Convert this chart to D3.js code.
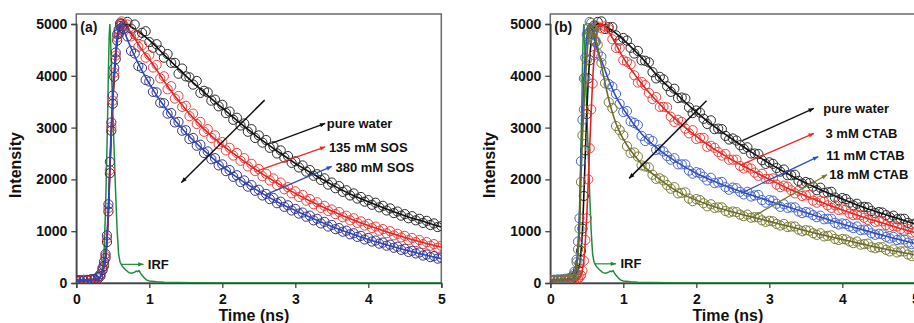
<!DOCTYPE html>
<html>
<head>
<meta charset="utf-8">
<script src="https://cdn.jsdelivr.net/npm/d3@7"></script>
<style>
    body { margin: 0; background: #fff; }
    svg { display: block; font-family: "Liberation Sans", Arial, sans-serif; font-weight: bold; }
</style>
</head>
<body>
<svg id="chart" width="914" height="323"></svg>
<script>
// time channels (ns) shared by every decay
const timeNs = [0, 0.05, 0.1, 0.15, 0.2, 0.25, 0.3, 0.33, 0.36, 0.38, 0.4, 0.42, 0.44, 0.46, 0.48, 0.5, 0.52, 0.54, 0.56, 0.58, 0.6, 0.62, 0.65,
    0.7, 0.75, 0.8, 0.85, 0.9, 0.95, 1.0, 1.05, 1.1, 1.15,
    1.2, 1.25, 1.3, 1.35, 1.4, 1.45, 1.5, 1.55, 1.6, 1.65,
    1.7, 1.75, 1.8, 1.85, 1.9, 1.95, 2.0, 2.05, 2.1, 2.15,
    2.2, 2.25, 2.3, 2.35, 2.4, 2.45, 2.5, 2.55, 2.6, 2.65,
    2.7, 2.75, 2.8, 2.85, 2.9, 2.95, 3.0, 3.05, 3.1, 3.15,
    3.2, 3.25, 3.3, 3.35, 3.4, 3.45, 3.5, 3.55, 3.6, 3.65,
    3.7, 3.75, 3.8, 3.85, 3.9, 3.95, 4.0, 4.05, 4.1, 4.15,
    4.2, 4.25, 4.3, 4.35, 4.4, 4.45, 4.5, 4.55, 4.6, 4.65,
    4.7, 4.75, 4.8, 4.85, 4.9, 4.95, 5.0];

// time knots of the fitted curves
const fitTime = [0, 0.3, 0.35, 0.4, 0.42, 0.44, 0.46, 0.48, 0.5, 0.52, 0.54, 0.56, 0.58, 0.6, 0.62, 0.65,
    0.7, 0.8, 0.9, 1.0, 1.25, 1.5, 1.75, 2.0, 2.25, 2.5, 2.75, 3.0, 3.25, 3.5, 3.75, 4.0, 4.25, 4.5, 4.75, 5.0];

// instrument response function
const irfTime = [0, 0.25, 0.3, 0.33, 0.36, 0.38, 0.4, 0.42, 0.43, 0.44, 0.45, 0.46, 0.47, 0.48, 0.5, 0.52, 0.54, 0.56, 0.58, 0.6,
    0.63, 0.67, 0.72, 0.76, 0.8, 0.82, 0.84, 0.86, 0.88, 0.9, 0.93, 0.96, 1.0, 1.1, 1.2, 1.4, 1.6, 2.0, 5.0];
const irfCounts = [30, 40, 60, 110, 250, 600, 1400, 2600, 3300, 4100, 4750, 5000, 4700, 4200, 3300, 2500, 1700, 1000, 550, 400,
    320, 260, 200, 190, 210, 230, 220, 240, 190, 150, 100, 60, 40, 25, 15, 8, 4, 2, 0];

// panel (a): pure water, 135 mM SOS, 380 mM SOS
const waterA = [40, 50, 60, 50, 70, 60, 90, 130, 250, 330, 480, 790, 1380, 2120, 2940, 3460, 3980, 4320, 4680, 4810, 4960, 5010, 4970,
    5040, 4910, 4990, 4780, 4830, 4860, 4650, 4540, 4610, 4490,
    4350, 4420, 4250, 4250, 4040, 4140, 3990, 3970, 3830, 3900,
    3670, 3710, 3680, 3520, 3540, 3410, 3440, 3280, 3310, 3150,
    3190, 3040, 3080, 2920, 2970, 2800, 2850, 2710, 2760, 2610,
    2640, 2500, 2560, 2420, 2450, 2320, 2350, 2230, 2270, 2150,
    2180, 2070, 2100, 1990, 2020, 1900, 1940, 1830, 1870, 1760,
    1790, 1690, 1730, 1630, 1660, 1570, 1600, 1510, 1550, 1460,
    1490, 1400, 1440, 1350, 1380, 1300, 1330, 1250, 1290, 1210,
    1240, 1160, 1200, 1120, 1150, 1080, 1100];
const sos135 = [50, 40, 60, 50, 60, 70, 100, 140, 270, 360, 520, 860, 1450, 2180, 3010, 3520, 4060, 4390, 4740, 4850, 4990, 5050, 4960,
    4990, 4760, 4800, 4560, 4590, 4350, 4400, 4160, 4210, 3950,
    3990, 3740, 3800, 3560, 3610, 3400, 3420, 3220, 3270, 3070,
    3110, 2920, 2970, 2800, 2850, 2680, 2720, 2560, 2610, 2460,
    2510, 2360, 2410, 2250, 2300, 2160, 2200, 2060, 2110, 1980,
    2020, 1890, 1940, 1810, 1850, 1730, 1770, 1660, 1700, 1590,
    1620, 1520, 1560, 1450, 1490, 1390, 1420, 1330, 1370, 1270,
    1300, 1210, 1250, 1160, 1190, 1110, 1140, 1060, 1090, 1010,
    1040, 960, 1000, 920, 950, 880, 910, 830, 870, 790,
    830, 750, 790, 720, 750, 680, 720];
const sos380 = [60, 50, 40, 60, 70, 80, 120, 170, 300, 410, 560, 920, 1520, 2340, 3100, 3620, 4150, 4450, 4800, 4890, 5010, 4930, 4900,
    4760, 4480, 4430, 4190, 4150, 3920, 3890, 3690, 3680, 3480,
    3470, 3270, 3280, 3100, 3110, 2940, 2950, 2780, 2800, 2650,
    2670, 2510, 2540, 2390, 2410, 2270, 2290, 2160, 2180, 2050,
    2080, 1950, 1980, 1860, 1890, 1780, 1800, 1690, 1720, 1620,
    1640, 1540, 1570, 1470, 1500, 1400, 1430, 1340, 1360, 1280,
    1300, 1210, 1240, 1150, 1180, 1090, 1120, 1040, 1060, 990,
    1010, 940, 960, 890, 910, 840, 870, 800, 820, 760,
    780, 720, 740, 680, 700, 640, 660, 600, 620, 570,
    590, 530, 550, 500, 520, 470, 490];
const waterAFit = [50, 70, 180, 450, 800, 1350, 2150, 2900, 3500, 3950, 4350, 4650, 4830, 4930, 4980, 5000,
    4990, 4900, 4800, 4690, 4340, 4000, 3680, 3380, 3080, 2800, 2550, 2310, 2100, 1900, 1720, 1570, 1430, 1300, 1190, 1080];
const sos135Fit = [50, 70, 190, 480, 830, 1400, 2200, 2950, 3550, 4000, 4400, 4700, 4870, 4960, 5000, 4990,
    4920, 4720, 4500, 4320, 3800, 3350, 2970, 2660, 2400, 2150, 1930, 1730, 1550, 1390, 1240, 1110, 990, 880, 780, 690];
const sos380Fit = [50, 80, 210, 520, 880, 1480, 2300, 3050, 3650, 4100, 4480, 4760, 4920, 4980, 4960, 4880,
    4700, 4380, 4100, 3850, 3320, 2900, 2560, 2250, 1990, 1770, 1570, 1400, 1240, 1090, 960, 840, 740, 640, 550, 470];

// panel (b): pure water, 3 mM, 11 mM, 18 mM CTAB
const waterB = [50, 60, 40, 60, 50, 70, 90, 110, 170, 250, 380, 620, 1050, 1680, 2560, 3260, 3950, 4300, 4700, 4800, 4970, 4950, 5040,
    5050, 4905, 4940, 4940, 4780, 4680, 4730, 4680, 4540, 4430,
    4480, 4300, 4290, 4260, 4070, 3950, 3980, 3930, 3800, 3690,
    3750, 3570, 3580, 3560, 3390, 3280, 3330, 3290, 3170, 3070,
    3140, 2970, 2980, 2970, 2840, 2770, 2790, 2750, 2660, 2590,
    2620, 2500, 2500, 2490, 2370, 2300, 2330, 2300, 2220, 2150,
    2190, 2080, 2080, 2090, 1970, 1920, 1950, 1930, 1860, 1790,
    1840, 1740, 1750, 1760, 1650, 1600, 1640, 1620, 1550, 1500,
    1530, 1460, 1470, 1460, 1390, 1350, 1370, 1360, 1310, 1270,
    1300, 1230, 1240, 1240, 1160, 1130, 1150];
const ctab3 = [50, 40, 60, 50, 40, 60, 50, 60, 70, 80, 110, 150, 240, 430, 830, 1250, 2000, 2600, 3350, 3850, 4400, 4650, 4950,
    4920, 4955, 4900, 4705, 4540, 4535, 4300, 4270, 4220, 4010,
    3870, 3880, 3820, 3670, 3550, 3590, 3400, 3400, 3390, 3210,
    3110, 3150, 3110, 2980, 2890, 2950, 2780, 2800, 2800, 2630,
    2650, 2610, 2530, 2460, 2490, 2380, 2380, 2380, 2260, 2210,
    2240, 2210, 2130, 2070, 2110, 2010, 2010, 2020, 1900, 1850,
    1880, 1860, 1790, 1730, 1780, 1680, 1690, 1700, 1590, 1550,
    1590, 1570, 1500, 1450, 1500, 1410, 1420, 1420, 1340, 1310,
    1320, 1310, 1260, 1220, 1250, 1180, 1190, 1190, 1120, 1080,
    1100, 1090, 1040, 1000, 1040, 970, 980];
const ctab11 = [60, 50, 70, 60, 80, 90, 130, 220, 450, 800, 1250, 2350, 3150, 3950, 4350, 4800, 4920, 5040, 4900, 4880, 4680, 4650, 4430,
    4370, 4070, 3840, 3790, 3650, 3460, 3300, 3320, 3120, 3090,
    3050, 2840, 2740, 2780, 2740, 2570, 2580, 2540, 2450, 2380,
    2410, 2290, 2290, 2290, 2170, 2110, 2140, 2120, 2050, 1980,
    2030, 1930, 1940, 1950, 1850, 1800, 1840, 1830, 1760, 1710,
    1760, 1670, 1690, 1700, 1600, 1550, 1600, 1590, 1530, 1470,
    1520, 1450, 1460, 1460, 1380, 1350, 1370, 1360, 1310, 1270,
    1300, 1230, 1240, 1240, 1160, 1130, 1150, 1140, 1090, 1060,
    1090, 1020, 1030, 1030, 960, 930, 950, 940, 890, 860,
    890, 830, 840, 840, 780, 750, 770];
const ctab18 = [50, 60, 50, 70, 60, 80, 110, 180, 400, 650, 1050, 1950, 2850, 3350, 3950, 4300, 4750, 4850, 5020, 4920, 4880, 4680, 4600,
    4250, 3855, 3490, 3375, 3030, 2950, 2850, 2640, 2510, 2520,
    2440, 2270, 2250, 2230, 2090, 2010, 2020, 1980, 1890, 1820,
    1850, 1730, 1740, 1750, 1630, 1580, 1620, 1600, 1540, 1480,
    1520, 1450, 1460, 1460, 1390, 1360, 1380, 1370, 1320, 1290,
    1320, 1260, 1270, 1270, 1210, 1180, 1200, 1190, 1140, 1110,
    1140, 1080, 1090, 1090, 1030, 1000, 1020, 1010, 960, 930,
    960, 900, 910, 920, 850, 830, 850, 840, 800, 770,
    800, 740, 750, 760, 690, 670, 690, 690, 640, 610,
    650, 590, 610, 610, 550, 520, 550];
const waterBFit = [50, 70, 150, 350, 600, 1000, 1700, 2500, 3300, 3900, 4350, 4650, 4830, 4930, 4980, 5000,
    4990, 4920, 4820, 4700, 4350, 3950, 3620, 3300, 3020, 2770, 2530, 2310, 2110, 1930, 1770, 1620, 1480, 1360, 1250, 1140];
const ctab3Fit = [50, 50, 60, 100, 150, 250, 450, 800, 1300, 1950, 2650, 3300, 3900, 4350, 4680, 4920,
    5000, 4850, 4600, 4350, 3850, 3450, 3120, 2830, 2580, 2370, 2180, 2000, 1830, 1680, 1540, 1410, 1290, 1180, 1070, 970];
const ctab11Fit = [60, 80, 300, 1300, 2300, 3200, 3900, 4400, 4750, 4950, 5000, 4950, 4850, 4720, 4620, 4480,
    4300, 3920, 3600, 3360, 2880, 2560, 2320, 2120, 1960, 1820, 1700, 1580, 1470, 1360, 1250, 1140, 1040, 940, 850, 760];
const ctab18Fit = [60, 80, 250, 1000, 2000, 2800, 3400, 3900, 4350, 4700, 4900, 4990, 4950, 4850, 4720, 4550,
    4200, 3550, 3080, 2780, 2300, 2000, 1760, 1600, 1470, 1370, 1280, 1190, 1100, 1010, 920, 840, 760, 680, 610, 540];

// axes
const xTicks = [0, 1, 2, 3, 4, 5];
const yTicks = [0, 1000, 2000, 3000, 4000, 5000];

const svg = d3.select("#chart");
const defs = svg.append("defs");

const arrowColors = { black: "#111", red: "#ee2a24", blue: "#2f4fc0", olive: "#77772e", green: "#1e8c3c" };
Object.entries(arrowColors).forEach(([key, c]) => {
    defs.append("marker")
        .attr("id", "arrow-" + key)
        .attr("viewBox", "0 -4 9 8")
        .attr("refX", 8.5)
        .attr("refY", 0)
        .attr("markerUnits", "userSpaceOnUse")
        .attr("markerWidth", 7)
        .attr("markerHeight", 5)
        .attr("orient", "auto")
        .append("path")
            .attr("d", "M0,-3.5 L9,0 L0,3.5 Z")
            .attr("fill", c);
});

const panels = [
    {
        tag: "a", left: 76.3, letter: "(a)",
        series: [
            { data: waterA, fit: waterAFit, dot: "#2a2a2a", line: "#111" },
            { data: sos135, fit: sos135Fit, dot: "#f0403c", line: "#e82420" },
            { data: sos380, fit: sos380Fit, dot: "#34348e", line: "#2a48bc" }
        ],
        trend: [[2.58, 3530], [1.44, 1940]],
        notes: [
            { text: "pure water", from: [2.68, 2700], to: [3.41, 3080], at: [3.43, 3080], arrow: "black" },
            { text: "135 mM SOS", from: [2.45, 2150], to: [3.41, 2630], at: [3.46, 2610], arrow: "red" },
            { text: "380 mM SOS", from: [2.59, 1700], to: [3.5, 2250], at: [3.55, 2240], arrow: "blue" }
        ],
        irfNote: { from: [0.62, 360], to: [0.92, 360], at: [0.98, 360] }
    },
    {
        tag: "b", left: 550.3, letter: "(b)",
        series: [
            { data: waterB, fit: waterBFit, dot: "#2a2a2a", line: "#111" },
            { data: ctab3, fit: ctab3Fit, dot: "#f0403c", line: "#e82420" },
            { data: ctab11, fit: ctab11Fit, dot: "#4866cc", line: "#2f4fc0" },
            { data: ctab18, fit: ctab18Fit, dot: "#7b7b36", line: "#6c6c28" }
        ],
        trend: [[2.14, 3520], [1.08, 2020]],
        notes: [
            { text: "pure water", from: [2.63, 2750], to: [3.61, 3370], at: [3.74, 3370], arrow: "black" },
            { text: "3 mM CTAB", from: [2.61, 2280], to: [3.61, 2890], at: [3.77, 2890], arrow: "red" },
            { text: "11 mM CTAB", from: [2.61, 1730], to: [3.67, 2440], at: [3.78, 2470], arrow: "blue" },
            { text: "18 mM CTAB", from: [2.74, 1250], to: [3.79, 2090], at: [3.82, 2100], arrow: "olive" }
        ],
        irfNote: { from: [0.61, 370], to: [0.9, 370], at: [0.96, 370] }
    }
];

const plotTop = 14, plotBottom = 283, plotWidth = 365;

function drawPanel(p) {
    const x = d3.scaleLinear().domain([0, 5]).range([p.left, p.left + plotWidth]);
    const y = d3.scaleLinear().domain([0, 5000]).range([plotBottom, 24]);
    const g = svg.append("g").attr("class", "panel-" + p.tag);

    defs.append("clipPath").attr("id", "clip-" + p.tag)
        .append("rect")
            .attr("x", p.left).attr("y", plotTop)
            .attr("width", plotWidth).attr("height", plotBottom - plotTop);

    // frame
    g.append("rect")
        .attr("x", p.left).attr("y", plotTop)
        .attr("width", plotWidth).attr("height", plotBottom - plotTop)
        .attr("fill", "none").attr("stroke", "#6a6a6a").attr("stroke-width", 1.5);

    const yAxis = g.append("g")
        .attr("transform", `translate(${p.left},0)`)
        .call(d3.axisLeft(y).tickValues(yTicks).tickFormat(d3.format("d")).tickSize(5).tickPadding(4));
    const xAxis = g.append("g")
        .attr("transform", `translate(0,${plotBottom})`)
        .call(d3.axisBottom(x).tickValues(xTicks).tickFormat(d3.format("d")).tickSize(5).tickPadding(6));
    [xAxis, yAxis].forEach(ax => {
        ax.select(".domain").attr("stroke", "#444").attr("stroke-width", 1.5);
        ax.selectAll(".tick line").attr("stroke", "#444").attr("stroke-width", 1.3);
        ax.selectAll(".tick text")
            .attr("fill", "#111")
            .style("font-size", "14px")
            .style("font-weight", "bold")
            .style("font-family", "'Liberation Sans', Arial, sans-serif");
    });

    // axis titles
    g.append("text")
        .attr("x", x(2.5) - 5).attr("y", 321)
        .attr("text-anchor", "middle")
        .style("font-size", "16px").attr("fill", "#111")
        .text("Time (ns)");
    g.append("text")
        .attr("transform", `translate(${p.left - 55},165) rotate(-90)`)
        .attr("text-anchor", "middle")
        .style("font-size", "16px").attr("fill", "#111")
        .text("Intensity");

    const plot = g.append("g").attr("clip-path", `url(#clip-${p.tag})`);

    // IRF
    plot.append("path")
        .datum(d3.zip(irfTime, irfCounts))
        .attr("fill", "none")
        .attr("stroke", arrowColors.green)
        .attr("stroke-width", 1.5)
        .attr("d", d3.line().x(d => x(d[0])).y(d => y(d[1])));

    const fitLine = d3.line()
        .x(d => x(d[0])).y(d => y(d[1]))
        .curve(d3.curveMonotoneX);

    p.series.forEach(s => {
        plot.append("g").selectAll("circle")
            .data(d3.zip(timeNs, s.data))
            .join("circle")
                .attr("cx", d => x(d[0]))
                .attr("cy", d => y(d[1]))
                .attr("r", 4.6)
                .attr("fill", "none")
                .attr("stroke", s.dot)
                .attr("stroke-width", 1);
        plot.append("path")
            .datum(d3.zip(fitTime, s.fit))
            .attr("fill", "none")
            .attr("stroke", s.line)
            .attr("stroke-width", 1.6)
            .attr("d", fitLine);
    });

    // panel letter
    g.append("text")
        .attr("x", p.left + 4).attr("y", 27)
        .attr("dy", "0.35em")
        .style("font-size", "14px").attr("fill", "#111")
        .text(p.letter);

    // trend arrow
    g.append("line")
        .attr("x1", x(p.trend[0][0])).attr("y1", y(p.trend[0][1]))
        .attr("x2", x(p.trend[1][0])).attr("y2", y(p.trend[1][1]))
        .attr("stroke", arrowColors.black).attr("stroke-width", 1.5)
        .attr("marker-end", "url(#arrow-black)");

    // series labels with pointers
    p.notes.forEach(n => {
        g.append("line")
            .attr("x1", x(n.from[0])).attr("y1", y(n.from[1]))
            .attr("x2", x(n.to[0])).attr("y2", y(n.to[1]))
            .attr("stroke", arrowColors[n.arrow]).attr("stroke-width", 1.3)
            .attr("marker-end", `url(#arrow-${n.arrow})`);
        g.append("text")
            .attr("x", x(n.at[0])).attr("y", y(n.at[1]))
            .attr("dy", "0.35em")
            .style("font-size", "13px").attr("fill", "#111")
            .text(n.text);
    });

    // IRF label
    g.append("line")
        .attr("x1", x(p.irfNote.from[0])).attr("y1", y(p.irfNote.from[1]))
        .attr("x2", x(p.irfNote.to[0])).attr("y2", y(p.irfNote.to[1]))
        .attr("stroke", arrowColors.green).attr("stroke-width", 1.2)
        .attr("marker-end", "url(#arrow-green)");
    g.append("text")
        .attr("x", x(p.irfNote.at[0])).attr("y", y(p.irfNote.at[1]))
        .attr("dy", "0.35em")
        .style("font-size", "13px").attr("fill", "#111")
        .text("IRF");
}

panels.forEach(drawPanel);
</script>
</body>
</html>
